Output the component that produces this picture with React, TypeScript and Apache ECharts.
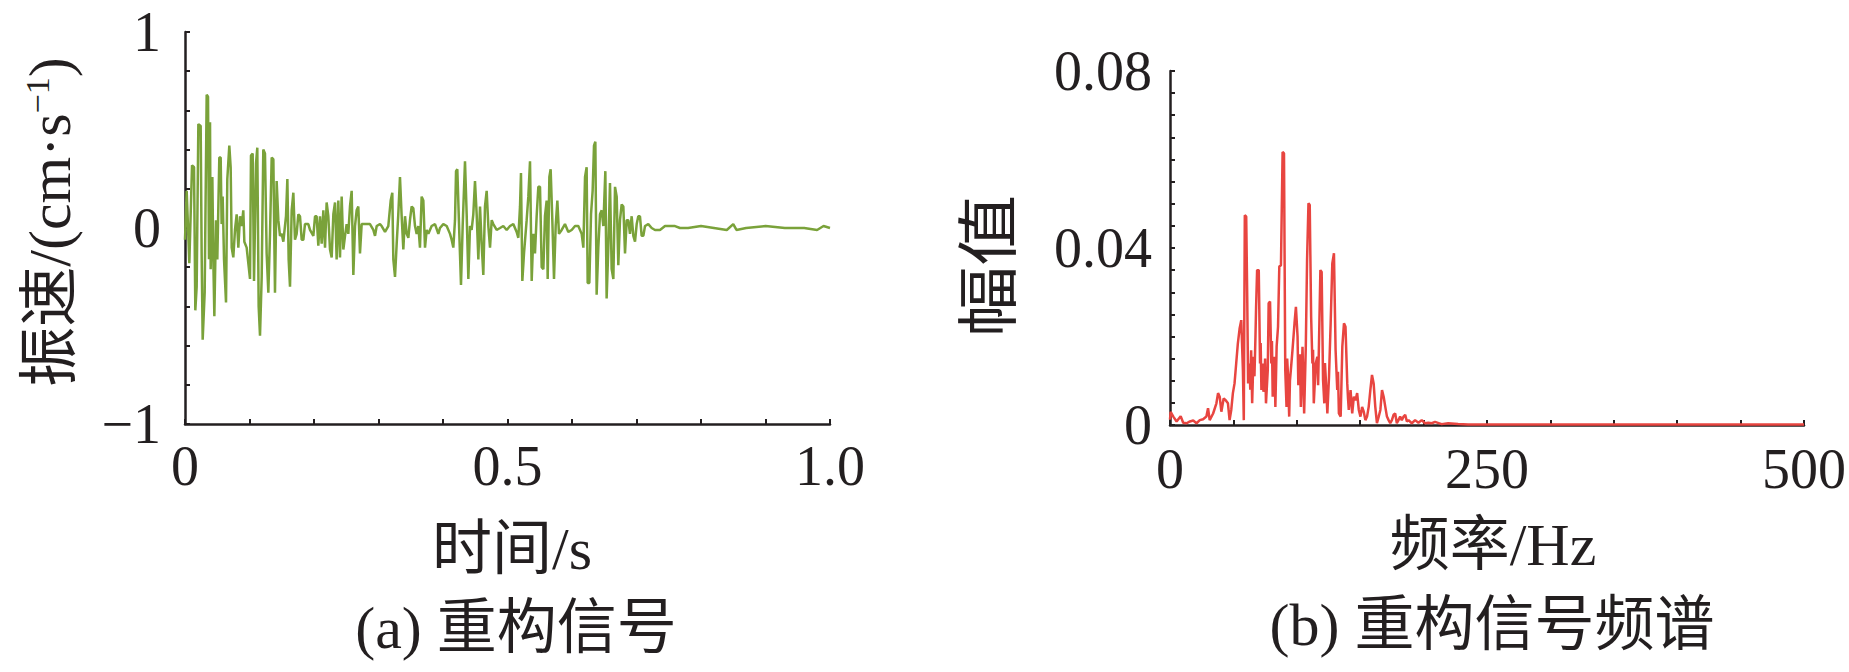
import React, { useEffect, useRef } from "react";
import * as echarts from "echarts";

// (a) reconstructed signal: [time s, velocity cm/s]
const signal: [number, number][] = [
  [0, -0.06], [0.0026, 0.19], [0.0067, -0.18], [0.0109, 0.32], [0.014, 0.31], [0.016, -0.42], [0.0181, -0.3],
  [0.0207, 0.53], [0.0243, 0.52], [0.0258, -0.13], [0.0274, -0.57], [0.0305, -0.33], [0.0336, 0.68], [0.0357, 0.67],
  [0.0372, -0.16], [0.0388, 0.54], [0.0398, -0.21], [0.0424, 0.26], [0.0439, -0.16], [0.0455, -0.45], [0.0481, 0.04],
  [0.0501, -0.16], [0.0532, 0.36], [0.0553, 0.36], [0.0568, 0.02], [0.0584, 0.16], [0.0605, -0.16], [0.0636, -0.38],
  [0.0656, 0.25], [0.0687, 0.42], [0.0708, 0.31], [0.0724, -0.1], [0.0749, -0.15], [0.0775, -0.01], [0.0801, 0.07],
  [0.0827, -0.1], [0.0853, 0.06], [0.0879, 0.01], [0.0904, 0.09], [0.092, -0.07], [0.0956, -0.1], [0.0982, -0.18],
  [0.1008, -0.26], [0.1023, 0.37], [0.1049, 0.38], [0.107, -0.27], [0.1101, 0.33], [0.1121, 0.41], [0.1142, -0.4],
  [0.1163, -0.55], [0.1189, -0.25], [0.1214, 0.4], [0.124, 0.38], [0.1266, -0.13], [0.1292, -0.33], [0.1318, -0.03],
  [0.1344, 0.36], [0.137, 0.35], [0.1395, -0.33], [0.1421, 0.24], [0.1447, 0.04], [0.1473, -0.04], [0.1499, -0.03],
  [0.1525, -0.07], [0.1566, 0.06], [0.1587, 0.25], [0.1607, -0.16], [0.1628, -0.3], [0.1654, 0.09], [0.168, 0.18],
  [0.1705, -0.06], [0.1731, -0.03], [0.1757, 0.07], [0.1783, 0.06], [0.1809, -0.06], [0.1835, -0.06], [0.186, 0.02],
  [0.1912, 0.02], [0.1938, -0.01], [0.199, -0.04], [0.2016, 0.06], [0.2041, 0.06], [0.2067, -0.09], [0.2093, 0.06],
  [0.2119, -0.08], [0.2145, 0.09], [0.2171, -0.1], [0.2196, 0.13], [0.2222, 0.06], [0.2248, -0.11], [0.2274, -0.15],
  [0.23, 0.07], [0.2326, 0.13], [0.2351, -0.16], [0.2377, 0.14], [0.2403, -0.15], [0.2429, 0.16], [0.2455, -0.11],
  [0.2481, -0.04], [0.2506, 0.02], [0.2532, -0.03], [0.2558, 0.11], [0.2584, 0.19], [0.261, -0.24], [0.2636, 0.01],
  [0.2661, 0.09], [0.2687, 0.11], [0.2713, -0.13], [0.2739, 0.02], [0.2791, 0.02], [0.2868, 0.02], [0.292, -0.01],
  [0.2946, -0.04], [0.2972, 0.01], [0.3023, 0.02], [0.3049, 0.01], [0.3101, -0.02], [0.3152, 0.01], [0.3189, 0.14],
  [0.3214, 0.18], [0.323, -0.16], [0.3256, -0.25], [0.3282, -0.08], [0.3307, 0.07], [0.3333, 0.26], [0.3359, 0.06],
  [0.3385, -0.11], [0.3411, 0.06], [0.3437, -0.03], [0.3463, -0.05], [0.3488, 0.04], [0.3514, 0.11], [0.354, 0.1],
  [0.3566, 0.01], [0.3592, -0.03], [0.3618, 0.01], [0.3643, -0.1], [0.3669, 0.16], [0.3695, 0.14], [0.3721, -0.1],
  [0.3747, -0.01], [0.3773, -0.03], [0.3824, 0.01], [0.3876, 0.02], [0.3928, -0.03], [0.3953, 0.0], [0.4005, 0.02],
  [0.4057, 0.01], [0.4109, -0.03], [0.4134, -0.06], [0.416, -0.1], [0.4186, 0.04], [0.4202, 0.29], [0.4222, 0.3],
  [0.4253, -0.03], [0.4279, -0.29], [0.4305, 0.01], [0.4341, 0.34], [0.4367, 0.07], [0.4393, -0.26], [0.4419, 0.01],
  [0.4444, -0.01], [0.447, 0.07], [0.4496, 0.24], [0.4522, 0.07], [0.4548, -0.16], [0.4574, 0.11], [0.4599, -0.08],
  [0.4625, -0.24], [0.4651, 0.11], [0.4677, 0.19], [0.4703, 0.01], [0.4729, -0.1], [0.4755, 0.04], [0.478, 0.02],
  [0.4832, -0.01], [0.4884, 0.0], [0.4935, 0.01], [0.4987, -0.01], [0.5039, 0.01], [0.509, 0.02], [0.5142, -0.02],
  [0.5168, -0.05], [0.5194, 0.11], [0.5209, 0.28], [0.523, -0.27], [0.5256, -0.13], [0.5297, 0.04], [0.5323, 0.16],
  [0.5349, 0.34], [0.5375, -0.27], [0.5401, -0.03], [0.5426, -0.13], [0.5452, 0.06], [0.5478, 0.21], [0.5504, 0.21],
  [0.553, -0.2], [0.5556, -0.21], [0.5581, 0.06], [0.5607, 0.14], [0.5623, -0.26], [0.5649, 0.26], [0.5669, 0.3],
  [0.5695, 0.04], [0.5721, -0.26], [0.5747, 0.01], [0.5773, 0.14], [0.5798, -0.03], [0.584, -0.01], [0.5891, 0.02],
  [0.5943, -0.02], [0.5995, -0.01], [0.6047, 0.01], [0.6098, 0.01], [0.615, -0.03], [0.6176, -0.1], [0.6202, 0.26],
  [0.6227, 0.31], [0.6243, -0.28], [0.6269, -0.28], [0.6295, 0.07], [0.632, 0.19], [0.6341, 0.42], [0.6362, 0.44],
  [0.6382, -0.34], [0.6408, -0.1], [0.6434, 0.07], [0.646, 0.09], [0.6486, 0.01], [0.6517, 0.29], [0.6537, -0.36],
  [0.6563, -0.1], [0.6589, 0.23], [0.6615, -0.21], [0.6641, -0.26], [0.6667, 0.21], [0.6693, 0.16], [0.6718, -0.19],
  [0.6744, 0.04], [0.677, 0.12], [0.6796, 0.11], [0.6822, -0.13], [0.6848, 0.04], [0.6873, 0.04], [0.6899, -0.03],
  [0.6925, 0.06], [0.6951, -0.04], [0.6977, -0.07], [0.7003, 0.02], [0.7028, 0.06], [0.7054, 0.06], [0.708, -0.04],
  [0.7106, -0.04], [0.7132, 0.01], [0.7183, 0.02], [0.7235, 0.0], [0.7287, -0.01], [0.7364, -0.01], [0.7442, 0.01],
  [0.7519, 0.01], [0.7597, 0.01], [0.7674, 0.0], [0.78, 0.0], [0.8, 0.01], [0.82, 0.0], [0.84, -0.01], [0.85, 0.02],
  [0.855, -0.01], [0.87, 0.0], [0.9, 0.01], [0.93, 0.0], [0.96, 0.0], [0.98, -0.01], [0.99, 0.01], [1.0, 0.0],
];

// (b) spectrum: [frequency Hz, amplitude]
const spectrum: [number, number][] = [
  [0, 0.0012], [0.5, 0.003], [2.6, 0.0019], [5.2, 0.0008], [8.4, 0.002], [10.4, 0.0005], [13.1, 0.0004], [15.7, 0.0008],
  [18.3, 0.001], [20.9, 0.0004], [23.5, 0.0011], [26.1, 0.0013], [28.7, 0.0019], [30.0, 0.0038], [31.3, 0.0011],
  [34.0, 0.0026], [36.6, 0.0049], [37.9, 0.0072], [39.2, 0.0064], [40.5, 0.003], [42.3, 0.006], [43.9, 0.0056],
  [45.7, 0.0049], [47.0, 0.0011], [48.3, 0.0034], [49.6, 0.0072], [50.9, 0.0094], [52.2, 0.0139], [53.5, 0.0184],
  [54.9, 0.0218], [56.2, 0.0237], [57.5, 0.0124], [58.2, 0.0011], [59.0, 0.0474], [60.1, 0.0471], [60.9, 0.029],
  [61.6, 0.0094], [62.7, 0.0139], [63.3, 0.008], [64.0, 0.0169], [64.8, 0.0049], [65.8, 0.0154], [66.6, 0.011],
  [67.4, 0.02], [67.9, 0.0267], [68.7, 0.035], [70.0, 0.035], [71.0, 0.0139], [71.5, 0.0185], [72.1, 0.0079],
  [73.1, 0.0139], [73.7, 0.0075], [74.4, 0.0102], [75.0, 0.015], [75.7, 0.0049], [77.1, 0.0124], [77.8, 0.0275],
  [78.9, 0.0279], [79.9, 0.0139], [80.4, 0.019], [81.0, 0.0064], [81.6, 0.0105], [82.3, 0.0154], [83.1, 0.0041],
  [84.1, 0.0177], [85.2, 0.0222], [86.2, 0.0358], [87.5, 0.0361], [88.8, 0.0617], [89.9, 0.0614], [90.9, 0.0124],
  [91.9, 0.0041], [92.4, 0.015], [93.0, 0.0117], [94.0, 0.0019], [94.6, 0.01], [95.3, 0.0124], [96.6, 0.0169],
  [98.2, 0.023], [99.3, 0.0267], [100.6, 0.02], [101.2, 0.009], [101.9, 0.0139], [102.5, 0.016], [103.2, 0.0041],
  [104.5, 0.0177], [105.8, 0.0026], [107.1, 0.0177], [108.1, 0.0373], [109.2, 0.0501], [110.2, 0.0497], [111.3, 0.0245],
  [112.3, 0.0139], [112.8, 0.017], [113.4, 0.0049], [114.9, 0.0139], [116.2, 0.0154], [116.8, 0.009], [117.5, 0.0184],
  [118.6, 0.035], [119.6, 0.0346], [120.7, 0.0102], [121.7, 0.0049], [122.2, 0.014], [122.8, 0.0109], [124.1, 0.0026],
  [125.4, 0.0109], [126.7, 0.023], [128.0, 0.0365], [129.3, 0.0388], [130.6, 0.0169], [131.9, 0.0079], [132.5, 0.012],
  [133.2, 0.0026], [134.6, 0.0019], [135.9, 0.0177], [137.2, 0.023], [138.4, 0.0222], [139.8, 0.0094], [140.4, 0.006],
  [141.0, 0.0034], [142.4, 0.0079], [143.7, 0.0026], [145.0, 0.0064], [146.3, 0.0056], [147.6, 0.0072], [148.9, 0.0034],
  [150.2, 0.0019], [151.5, 0.0041], [152.8, 0.003], [154.1, 0.0011], [155.4, 0.0019], [156.7, 0.0041], [158.0, 0.0079],
  [159.3, 0.0113], [160.6, 0.0094], [161.9, 0.0041], [163.2, 0.0004], [164.6, 0.0019], [165.9, 0.0034], [167.2, 0.0079],
  [168.5, 0.0064], [169.8, 0.0041], [171.1, 0.0019], [172.4, 0.0011], [173.7, 0.0004], [175.0, 0.0011], [176.3, 0.0023],
  [177.6, 0.0026], [178.9, 0.0004], [180.2, 0.0011], [181.5, 0.0019], [182.8, 0.0011], [184.2, 0.0019], [185.5, 0.0023],
  [186.8, 0.0008], [188.1, 0.0011], [190.7, 0.0004], [193.3, 0.0011], [195.9, 0.0005], [198.5, 0.0011], [201.1, 0.0004],
  [203.7, 0.0005], [206.4, 0.0004], [209.0, 0.0007], [214.2, 0.0002], [219.4, 0.0004], [227.2, 0.0002], [235.1, 0.0001],
  [245.5, 0.0001], [300, 0.0001], [400, 0.0001], [500, 0.0001],
];

const timeTickLabels = ["0", "0.5", "1.0"];
const velocityTickLabels = ["−1", "0", "1"];
const freqTickLabels = ["0", "250", "500"];
const ampTickLabels = ["0", "0.04", "0.08"];

const INK = "#231f20";
const FONT = '"Liberation Serif", "Times New Roman", "Noto Sans CJK SC", serif';

const near = (a: number, b: number) => Math.abs(a - b) < 1e-6;

export default function App() {
  const ref = useRef<HTMLDivElement>(null);
  useEffect(() => {
    document.body.style.margin = "0";
    if (!ref.current) return;
    const chart = echarts.init(ref.current, null, { renderer: "svg" });

    const axisCommon = {
      axisLine: { show: true, onZero: false, lineStyle: { color: INK, width: 2.5 } },
      axisTick: { show: true, inside: true, length: 5, lineStyle: { color: INK, width: 2 } },
      splitLine: { show: false },
    };
    const labelStyle = { color: INK, fontFamily: FONT, fontSize: 56 };

    chart.setOption({
      animation: false,
      backgroundColor: "#ffffff",
      grid: [
        { left: 185, top: 32, width: 645, height: 392 },
        { left: 1170, top: 71, width: 638, height: 354 },
      ],
      xAxis: [
        {
          gridIndex: 0, type: "value", min: 0, max: 1, interval: 0.1, ...axisCommon,
          axisLabel: {
            ...labelStyle, margin: 14,
            formatter: (v: number) => (near(v, 0) ? timeTickLabels[0] : near(v, 0.5) ? timeTickLabels[1] : near(v, 1) ? timeTickLabels[2] : ""),
          },
        },
        {
          gridIndex: 1, type: "value", min: 0, max: 500, interval: 50, ...axisCommon,
          axisLabel: {
            ...labelStyle, margin: 16,
            formatter: (v: number) => (near(v, 0) ? freqTickLabels[0] : near(v, 250) ? freqTickLabels[1] : near(v, 500) ? freqTickLabels[2] : ""),
          },
        },
      ],
      yAxis: [
        {
          gridIndex: 0, type: "value", min: -1, max: 1, interval: 0.2, ...axisCommon,
          axisLabel: {
            ...labelStyle, margin: 24,
            formatter: (v: number) => (near(v, -1) ? velocityTickLabels[0] : near(v, 0) ? velocityTickLabels[1] : near(v, 1) ? velocityTickLabels[2] : ""),
          },
        },
        {
          gridIndex: 1, type: "value", min: 0, max: 0.08, interval: 0.005, ...axisCommon,
          axisLabel: {
            ...labelStyle, margin: 18,
            formatter: (v: number) => (near(v, 0) ? ampTickLabels[0] : near(v, 0.04) ? ampTickLabels[1] : near(v, 0.08) ? ampTickLabels[2] : ""),
          },
        },
      ],
      series: [
        {
          type: "line", xAxisIndex: 0, yAxisIndex: 0, data: signal, showSymbol: false, symbol: "none",
          lineStyle: { color: "#7aa23a", width: 2.5 }, z: 1,
        },
        {
          type: "line", xAxisIndex: 1, yAxisIndex: 1, data: spectrum, showSymbol: false, symbol: "none",
          lineStyle: { color: "#e84540", width: 2.5 }, z: 1,
        },
      ],
      graphic: [
        {
          type: "text", x: 50, y: 222, rotation: Math.PI / 2,
          style: {
            text: "振速/(cm·s{sup|−1})", fill: INK, font: `60px ${FONT}`,
            align: "center", verticalAlign: "middle",
            rich: { sup: { fontSize: 34, fontFamily: FONT, fill: INK, verticalAlign: "top" } },
          },
        },
        {
          type: "text", x: 512, y: 549,
          style: { text: "时间/s", fill: INK, font: `60px ${FONT}`, align: "center", verticalAlign: "middle" },
        },
        {
          type: "text", x: 516, y: 628,
          style: { text: "(a) 重构信号", fill: INK, font: `60px ${FONT}`, align: "center", verticalAlign: "middle" },
        },
        {
          type: "text", x: 990, y: 266, rotation: Math.PI / 2, scaleX: 1.15,
          style: { text: "幅值", fill: INK, font: `62px ${FONT}`, align: "center", verticalAlign: "middle" },
        },
        {
          type: "text", x: 1493, y: 545,
          style: { text: "频率/Hz", fill: INK, font: `60px ${FONT}`, align: "center", verticalAlign: "middle" },
        },
        {
          type: "text", x: 1492, y: 625,
          style: { text: "(b) 重构信号频谱", fill: INK, font: `60px ${FONT}`, align: "center", verticalAlign: "middle" },
        },
      ],
    });
    return () => chart.dispose();
  }, []);
  return <div ref={ref} style={{ width: 1849, height: 672 }} />;
}
